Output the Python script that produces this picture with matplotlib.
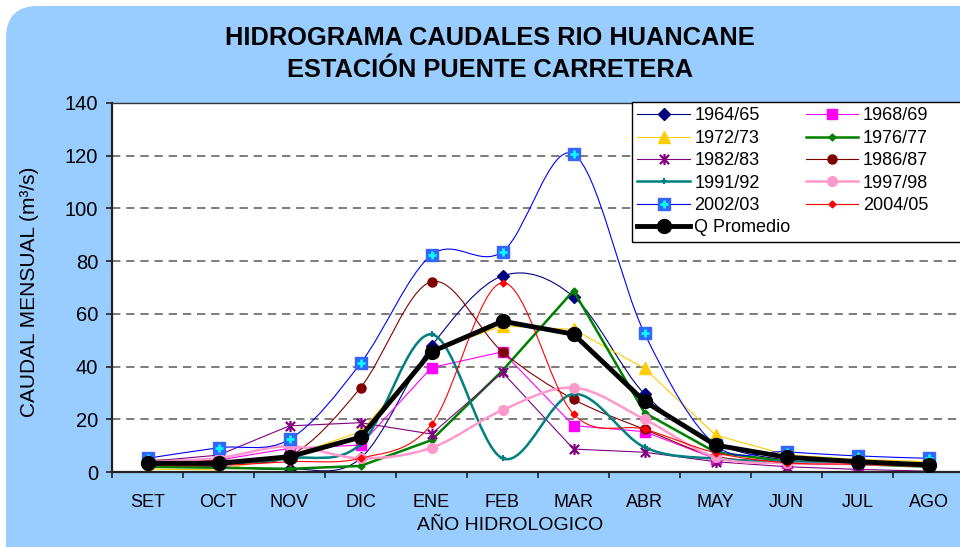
"""Hidrograma de caudales mensuales, Rio Huancane - Estacion Puente Carretera."""

import matplotlib

matplotlib.use("Agg")
import matplotlib.pyplot as plt
import numpy as np
from matplotlib.lines import Line2D
from matplotlib.patches import FancyBboxPatch, PathPatch, Rectangle
from matplotlib.path import Path
from matplotlib.legend_handler import HandlerTuple

plt.rcParams["font.family"] = ["Liberation Sans", "DejaVu Sans"]

MONTHS = ["SET", "OCT", "NOV", "DIC", "ENE", "FEB",
          "MAR", "ABR", "MAY", "JUN", "JUL", "AGO"]

Q_1964 = [2.8, 2.0, 1.1, 5.2, 47.8, 74.4, 66.5, 29.6, 11.0, 4.5, 3.2, 2.0]
Q_1968 = [3.5, 4.5, 9.0, 10.2, 39.6, 45.6, 17.6, 15.3, 5.0, 3.5, 2.8, 2.2]
Q_1972 = [1.1, 0.8, 6.0, 15.3, 46.0, 55.4, 54.1, 39.3, 14.0, 6.5, 4.8, 3.9]
Q_1976 = [2.0, 1.6, 1.2, 2.3, 12.1, 38.5, 68.8, 22.5, 7.5, 4.0, 3.0, 2.0]
Q_1982 = [4.0, 6.4, 17.5, 18.7, 14.4, 37.8, 8.7, 7.5, 3.9, 2.0, 1.0, 0.3]
Q_1986 = [4.5, 4.5, 6.0, 32.0, 72.2, 45.6, 27.6, 16.2, 6.0, 4.0, 3.5, 2.5]
Q_1991 = [3.0, 3.0, 5.2, 10.5, 52.2, 5.2, 29.6, 9.4, 5.0, 4.0, 3.0, 2.5]
Q_1997 = [3.8, 5.3, 9.8, 5.2, 9.2, 23.5, 32.0, 20.0, 5.6, 3.3, 3.0, 2.5]
Q_2002 = [5.2, 9.2, 12.4, 41.2, 82.3, 83.6, 120.6, 52.6, 10.2, 7.7, 6.1, 5.2]
Q_2004 = [2.5, 2.5, 3.9, 5.2, 18.1, 71.8, 22.0, 16.2, 7.3, 3.5, 2.9, 2.0]
Q_MEAN = [3.3, 3.3, 5.8, 13.2, 45.6, 57.2, 52.3, 26.8, 10.2, 5.6, 3.9, 2.7]

SERIES = [
    ("1964/65", Q_1964), ("1968/69", Q_1968), ("1972/73", Q_1972),
    ("1976/77", Q_1976), ("1982/83", Q_1982), ("1986/87", Q_1986),
    ("1991/92", Q_1991), ("1997/98", Q_1997), ("2002/03", Q_2002),
    ("2004/05", Q_2004), ("Q Promedio", Q_MEAN),
]

# Excel-like "asterisk" marker: an X with a vertical bar
_STAR = Path([(-1, -1), (1, 1), (-1, 1), (1, -1), (0, -1.2), (0, 1.2)],
             [Path.MOVETO, Path.LINETO, Path.MOVETO, Path.LINETO,
              Path.MOVETO, Path.LINETO])

STYLE = {
    "1964/65": dict(color="#000080", lw=0.8, marker="D", ms=6, smooth=True),
    "1968/69": dict(color="#FF00FF", lw=0.8, marker="s", ms=6.5, smooth=False),
    "1972/73": dict(color="#FFCC00", lw=0.8, marker="^", ms=9, smooth=False),
    "1976/77": dict(color="#008000", lw=1.8, marker="D", ms=3.5, smooth=False),
    "1982/83": dict(color="#800080", lw=0.8, marker=_STAR, ms=8, smooth=False),
    "1986/87": dict(color="#800000", lw=0.8, marker="o", ms=6.5, smooth=True),
    "1991/92": dict(color="#008080", lw=1.8, marker="+", ms=5, smooth=True),
    "1997/98": dict(color="#FF99CC", lw=1.8, marker="o", ms=7, smooth=True),
    "2002/03": dict(color="#0000FF", lw=0.8, marker="s", ms=8, smooth=True,
                    mfc="#3366FF"),
    "2004/05": dict(color="#FF0000", lw=0.8, marker="D", ms=3.5, smooth=True),
    "Q Promedio": dict(color="#000000", lw=3.5, marker="o", ms=10,
                       smooth=False),
}


def _smooth_path(x, y):
    """Bezier path through the points, like Excel's smoothed line."""
    pts = np.column_stack([x, y]).astype(float)
    n = len(pts)
    verts = [pts[0]]
    codes = [Path.MOVETO]
    for i in range(n - 1):
        p0 = pts[max(i - 1, 0)]
        p1 = pts[i]
        p2 = pts[i + 1]
        p3 = pts[min(i + 2, n - 1)]
        verts += [p1 + (p2 - p0) / 6, p2 - (p3 - p1) / 6, p2]
        codes += [Path.CURVE4] * 3
    return Path(verts, codes)


def _marker_kw(st):
    face = st.get("mfc", st["color"])
    kw = dict(marker=st["marker"], ms=st["ms"], mfc=face, mec=face)
    if st["marker"] is _STAR or st["marker"] == "+":
        kw.update(mfc="none", mec=st["color"], mew=1.6)
    return kw


def main() -> None:
    fig = plt.figure(figsize=(9.6, 5.47), dpi=100)
    fig.patch.set_facecolor("white")

    bg = FancyBboxPatch((0.06, -0.4), 9.9, 5.41 + 0.4,
                        boxstyle="round,pad=0,rounding_size=0.32",
                        transform=fig.dpi_scale_trans, facecolor="#99CCFF",
                        edgecolor="none", zorder=0)
    fig.add_artist(bg)

    ax = fig.add_axes([112 / 960, 1 - 472 / 547, 852 / 960, 369 / 547])
    ax.set_facecolor("white")
    ax.set_zorder(1)

    x = np.arange(len(MONTHS))
    handles = {}
    for k, (name, vals) in enumerate(SERIES):
        st = STYLE[name]
        z = 2 + k * 0.1
        mk = _marker_kw(st)
        if st["smooth"]:
            ax.add_patch(PathPatch(_smooth_path(x, vals), fill=False,
                                   edgecolor=st["color"], lw=st["lw"],
                                   zorder=z, capstyle="round",
                                   joinstyle="round"))
            ax.plot(x, vals, ls="none", zorder=z + 0.05, **mk)
        else:
            ax.plot(x, vals, color=st["color"], lw=st["lw"], zorder=z,
                    solid_joinstyle="round", **mk)
        h = Line2D([], [], color=st["color"], lw=st["lw"], **mk)
        if name == "2002/03":
            ax.plot(x, vals, ls="none", marker="+", ms=6, mew=2,
                    color="#00FFFF", zorder=z + 0.06)
            h = (h, Line2D([], [], ls="none", marker="+", ms=6, mew=2,
                           color="#00FFFF"))
        handles[name] = h

    ax.set_xlim(-0.5, len(MONTHS) - 0.5)
    ax.set_ylim(0, 140)
    ax.set_yticks(np.arange(0, 141, 20))
    ax.set_xticks(x)
    ax.set_xticklabels(MONTHS, fontsize=13)
    ax.set_xticks(np.arange(-0.5, len(MONTHS)), minor=True)
    ax.tick_params(axis="x", which="major", length=0, pad=16)
    ax.tick_params(axis="x", which="minor", length=4, width=1.2,
                   direction="out", color="#222222")
    ax.tick_params(axis="y", length=4, width=1.2, direction="out",
                   labelsize=14.5, pad=6, color="#222222")

    for yv in range(20, 140, 20):
        ax.axhline(yv, color="#666666", lw=1.2, ls=(0, (5, 3.5)), zorder=1)

    for side in ("left", "bottom"):
        ax.spines[side].set_linewidth(1.6)
        ax.spines[side].set_color("#222222")
    ax.spines["top"].set_linewidth(1.0)
    ax.spines["top"].set_color("#333333")
    ax.spines["right"].set_visible(False)

    fig.text(490 / 960, 1 - 38 / 547, "HIDROGRAMA CAUDALES RIO HUANCANE",
             ha="center", va="center", fontsize=18.3, fontweight="bold")
    fig.text(490 / 960, 1 - 70 / 547, "ESTACIÓN PUENTE CARRETERA",
             ha="center", va="center", fontsize=18.3, fontweight="bold")
    fig.text(30 / 960, 1 - 292 / 547, "CAUDAL MENSUAL (m³/s)",
             rotation=90, ha="center", va="center", fontsize=15)
    fig.text(510 / 960, 1 - 525 / 547, "AÑO HIDROLOGICO",
             ha="center", va="center", fontsize=14)

    # legend box runs past the right edge of the picture, as in the source
    box = Rectangle((6.32, 5.47 - 2.42), 3.6, 1.40,
                    transform=fig.dpi_scale_trans, facecolor="white",
                    edgecolor="black", lw=1.0, zorder=4)
    fig.add_artist(box)

    order = ["1964/65", "1972/73", "1982/83", "1991/92", "2002/03",
             "Q Promedio", "1968/69", "1976/77", "1986/87", "1997/98",
             "2004/05"]
    leg = fig.legend([handles[n] for n in order], order, ncol=2,
                     loc="upper left", bbox_to_anchor=(632 / 960, 1 - 102 / 547),
                     bbox_transform=fig.transFigure, fontsize=13,
                     frameon=False, borderpad=0.3,
                     labelspacing=0.3, handlelength=2.9, handletextpad=0.25,
                     columnspacing=0.85, borderaxespad=0,
                     handler_map={tuple: HandlerTuple(ndivide=1)})
    leg.set_zorder(5)

    fig.savefig("out.png", dpi=100)
    plt.close(fig)


if __name__ == "__main__":
    main()
